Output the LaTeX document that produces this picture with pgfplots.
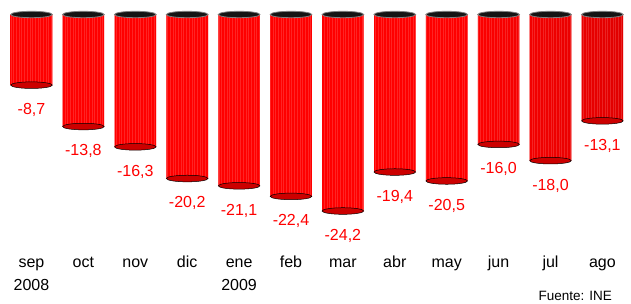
\documentclass[border=0pt]{standalone}
\usepackage{pgfplots}
\pgfplotsset{compat=1.18}
\usepackage{fontspec}
\setmainfont{Liberation Sans}
\usetikzlibrary{patterns.meta}
\pgfdeclarehorizontalshading{cyl}{100bp}{color(0bp)=(red!35!black); color(6bp)=(red!80!black); color(22bp)=(red); color(62bp)=(red); color(86bp)=(red!78!black); color(100bp)=(red!35!black)}
\pgfdeclareplotmark{cylbot}{\pgfpathellipse{\pgfpointorigin}{\pgfqpoint{20.8pt}{0pt}}{\pgfqpoint{0pt}{3.3pt}}\pgfusepathqfillstroke}
\pgfdeclareplotmark{cyltop}{\pgfpathellipse{\pgfpointorigin}{\pgfqpoint{20.8pt}{0pt}}{\pgfqpoint{0pt}{3.2pt}}\pgfusepathqfillstroke}
\pgfplotstableread{
x y lab
0 -8.7 {-8,7}
1 -13.8 {-13,8}
2 -16.3 {-16,3}
3 -20.2 {-20,2}
4 -21.1 {-21,1}
5 -22.4 {-22,4}
6 -24.2 {-24,2}
7 -19.4 {-19,4}
8 -20.5 {-20,5}
9 -16.0 {-16,0}
10 -18.0 {-18,0}
11 -13.1 {-13,1}
}\datatable
\pgfplotstableread{
x y
0 0
1 0
2 0
3 0
4 0
5 0
6 0
7 0
8 0
9 0
10 0
11 0
}\toptable
\begin{document}
\begin{tikzpicture}
\useasboundingbox (0,0) rectangle (631pt,304pt);
\begin{axis}[
  at={(5.55pt,54pt)}, anchor=south west,
  scale only axis, width=622.8pt, height=235.5pt,
  xmin=-0.5, xmax=11.5, ymin=-29, ymax=0,
  axis line style={draw=none}, ytick=\empty,
  xtick={0,...,11}, major tick length=0pt,
  xticklabels={{sep\\2008},{oct\\\phantom{0}},{nov\\\phantom{0}},{dic\\\phantom{0}},{ene\\2009},{feb\\\phantom{0}},{mar\\\phantom{0}},{abr\\\phantom{0}},{may\\\phantom{0}},{jun\\\phantom{0}},{jul\\\phantom{0}},{ago\\\phantom{0}}},
  xticklabel style={align=center, anchor=base, inner sep=0pt, yshift=-41pt, font=\fontsize{16}{23}\selectfont},
  clip=false,
]
\addplot[only marks, mark=cylbot, mark options={fill=red!80!black, draw=black, line width=0.5pt}] table[x=x,y=y] {\datatable};
\addplot[ybar, bar width=41.6pt, bar shift=0pt, draw=none, shading=cyl,
  postaction={pattern={Lines[angle=90,distance=2.7pt,line width=0.3pt]}, pattern color=white!60!red, opacity=0.4}] table[x=x,y=y] {\datatable};
\addplot[only marks, mark=cyltop, mark options={fill=black!92, draw=black!50, line width=0.8pt}] table[x=x,y=y] {\toptable};
\addplot[draw=none, mark=none, nodes near coords, point meta=explicit symbolic,
  every node near coord/.append style={anchor=north, inner sep=0pt, yshift=-18pt, text=red, font=\fontsize{16}{19}\selectfont}]
  table[x=x,y=y,meta=lab] {\datatable};
\end{axis}
\node[anchor=base east, font=\fontsize{13.5}{16}\selectfont, inner sep=0pt] at (612pt,3pt) {Fuente: INE};
\end{tikzpicture}
\end{document}
